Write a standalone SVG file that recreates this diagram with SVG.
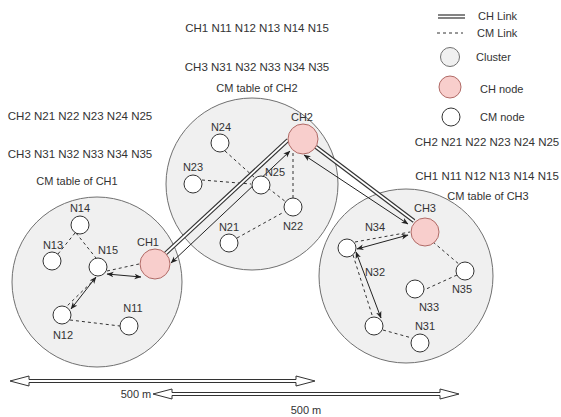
<svg xmlns="http://www.w3.org/2000/svg" xmlns:xlink="http://www.w3.org/1999/xlink" width="561" height="417" viewBox="0 0 561 417">
<style>
  .t { font-family: "Liberation Sans", Arial, sans-serif; font-size: 11px; fill: #333; }
  .list { font-size: 11.5px; }
  .mid { text-anchor: middle; }
  .cluster { fill: #f0f0f0; stroke: #707070; stroke-width: 1; }
  .ch { fill: #f8cecc; stroke: #b06a66; stroke-width: 1; }
  .cm { fill: #ffffff; stroke: #333; stroke-width: 1; }
  .dash { fill: none; stroke: #333; stroke-width: 1; stroke-dasharray: 3 3; }
  .arr { fill: none; stroke: #222; stroke-width: 1; marker-start: url(#ah); marker-end: url(#ah); }
  .lo { fill: none; stroke: #333; stroke-width: 4.2; }
  .li { fill: none; stroke: #ffffff; stroke-width: 1.8; }
  .block { fill: #ffffff; stroke: #333; stroke-width: 1; }
</style>
<defs>
  <marker id="ah" viewBox="0 0 8 8" refX="7.5" refY="4" markerWidth="7" markerHeight="7" markerUnits="userSpaceOnUse" orient="auto-start-reverse">
    <path d="M0,0.8 L8,4 L0,7.2 L2.2,4 z" fill="#222"/>
  </marker>
  <path id="link12" d="M165,254 L288,140"/>
  <path id="link23" d="M316,147 L414,221"/>
  <path id="legLink" d="M438,16.5 L465,16.5"/>
</defs>
<rect width="561" height="417" fill="#ffffff"/>

<!-- tables -->
<g id="tables">
  <text class="t list mid" x="257" y="32">CH1 N11 N12 N13 N14 N15</text>
  <text class="t list mid" x="257" y="71">CH3 N31 N32 N33 N34 N35</text>
  <text class="t mid" x="257" y="92">CM table of CH2</text>
  <text class="t list mid" x="80" y="120">CH2 N21 N22 N23 N24 N25</text>
  <text class="t list mid" x="80" y="158">CH3 N31 N32 N33 N34 N35</text>
  <text class="t mid" x="77" y="185">CM table of CH1</text>
  <text class="t list mid" x="487" y="146">CH2 N21 N22 N23 N24 N25</text>
  <text class="t list mid" x="487" y="180">CH1 N11 N12 N13 N14 N15</text>
  <text class="t mid" x="488" y="200">CM table of CH3</text>
</g>

<!-- clusters -->
<g id="cluster1"><circle class="cluster" cx="97" cy="282" r="85"/></g>
<g id="cluster2"><circle class="cluster" cx="252" cy="184" r="86"/></g>
<g id="cluster3"><circle class="cluster" cx="406" cy="276" r="87"/></g>

<!-- connectors -->
<g id="connectors">
  <!-- cluster 1 -->
  <path class="dash" d="M75,233 L58,254"/>
  <path class="dash" d="M76,233 L96,258"/>
  <path class="dash" d="M70,320 L120,326"/>
  <path class="dash" d="M107,271 L139,264"/>
  <path class="arr" d="M107,274 L141,277"/>
  <path class="dash" d="M100,274 L65,308"/>
  <path class="arr" d="M96,277 L71,309"/>
  <!-- cluster 2 -->
  <path class="dash" d="M225,151 L255,178"/>
  <path class="dash" d="M268,188 L286,202"/>
  <path class="dash" d="M202,180 L251,184"/>
  <path class="dash" d="M237,238 L284,212"/>
  <path class="dash" d="M293,198 L293,153"/>
  <!-- cluster 3 -->
  <path class="dash" d="M355,242 L410,232"/>
  <path class="arr" d="M357,249 L408,235"/>
  <path class="dash" d="M353,255 L373,318"/>
  <path class="arr" d="M356,252 L381,318"/>
  <path class="dash" d="M433,242 L460,265"/>
  <path class="dash" d="M457,275 L424,290"/>
  <path class="dash" d="M383,330 L412,338"/>
  <!-- CH links -->
  <use xlink:href="#link12" class="lo"/>
  <use xlink:href="#link12" class="li"/>
  <path class="arr" d="M171,263 L290,151"/>
  <use xlink:href="#link23" class="lo"/>
  <use xlink:href="#link23" class="li"/>
  <path class="arr" d="M304,155 L408,224"/>
</g>

<!-- cluster 1 nodes -->
<g id="CH1"><circle class="ch" cx="155" cy="264" r="15"/><text class="t mid" x="148" y="246">CH1</text></g>
<g id="N11"><circle class="cm" cx="129" cy="326" r="9"/><text class="t mid" x="133" y="312">N11</text></g>
<g id="N12"><circle class="cm" cx="62" cy="315" r="9"/><text class="t mid" x="63" y="339">N12</text></g>
<g id="N13"><circle class="cm" cx="52" cy="261" r="9"/><text class="t mid" x="53" y="249">N13</text></g>
<g id="N14"><circle class="cm" cx="80" cy="225" r="9"/><text class="t mid" x="80" y="212">N14</text></g>
<g id="N15"><circle class="cm" cx="98" cy="267" r="9"/><text class="t mid" x="108" y="254">N15</text></g>

<!-- cluster 2 nodes -->
<g id="CH2"><circle class="ch" cx="303" cy="139" r="15"/><text class="t mid" x="302" y="121">CH2</text></g>
<g id="N21"><circle class="cm" cx="229" cy="243" r="9"/><text class="t mid" x="229" y="231">N21</text></g>
<g id="N22"><circle class="cm" cx="293" cy="207" r="9"/><text class="t mid" x="293" y="230">N22</text></g>
<g id="N23"><circle class="cm" cx="193" cy="184" r="9"/><text class="t mid" x="193" y="171">N23</text></g>
<g id="N24"><circle class="cm" cx="220" cy="143" r="9"/><text class="t mid" x="221" y="131">N24</text></g>
<g id="N25"><circle class="cm" cx="261" cy="185" r="9"/><text class="t mid" x="275" y="176">N25</text></g>

<!-- cluster 3 nodes -->
<g id="CH3"><circle class="ch" cx="425" cy="232" r="14"/><text class="t mid" x="425" y="212">CH3</text></g>
<g id="N31"><circle class="cm" cx="420" cy="343" r="9"/><text class="t mid" x="425" y="330">N31</text></g>
<g id="N32"><circle class="cm" cx="374" cy="326" r="9"/><text class="t mid" x="375" y="276">N32</text></g>
<g id="N33"><circle class="cm" cx="415" cy="289" r="9"/><text class="t mid" x="429" y="311">N33</text></g>
<g id="N34"><circle class="cm" cx="347" cy="248" r="9"/><text class="t mid" x="375" y="231">N34</text></g>
<g id="N35"><circle class="cm" cx="465" cy="271" r="9"/><text class="t mid" x="462" y="293">N35</text></g>

<!-- distance arrows -->
<g id="scale">
  <path class="block" d="M10,381 L29,376 L29,379.5 L296,379.5 L296,376 L315,381 L296,386 L296,382.5 L29,382.5 L29,386 Z"/>
  <path class="block" d="M153,394 L172,389 L172,392.5 L440,392.5 L440,389 L459,394 L440,399 L440,395.5 L172,395.5 L172,399 Z"/>
  <text class="t mid" x="136" y="398">500 m</text>
  <text class="t mid" x="306" y="414">500 m</text>
</g>

<!-- legend -->
<g id="legend">
  <use xlink:href="#legLink" class="lo"/>
  <use xlink:href="#legLink" class="li"/>
  <text class="t" x="478" y="20">CH Link</text>
  <path class="dash" d="M437,33 L463,33"/>
  <text class="t" x="477" y="37">CM Link</text>
  <circle class="cluster" cx="450" cy="57" r="9.5"/>
  <text class="t" x="476" y="61">Cluster</text>
  <circle class="ch" cx="450" cy="87" r="11"/>
  <text class="t" x="480" y="93">CH node</text>
  <circle class="cm" cx="451" cy="117" r="9"/>
  <text class="t" x="480" y="121">CM node</text>
</g>
</svg>
